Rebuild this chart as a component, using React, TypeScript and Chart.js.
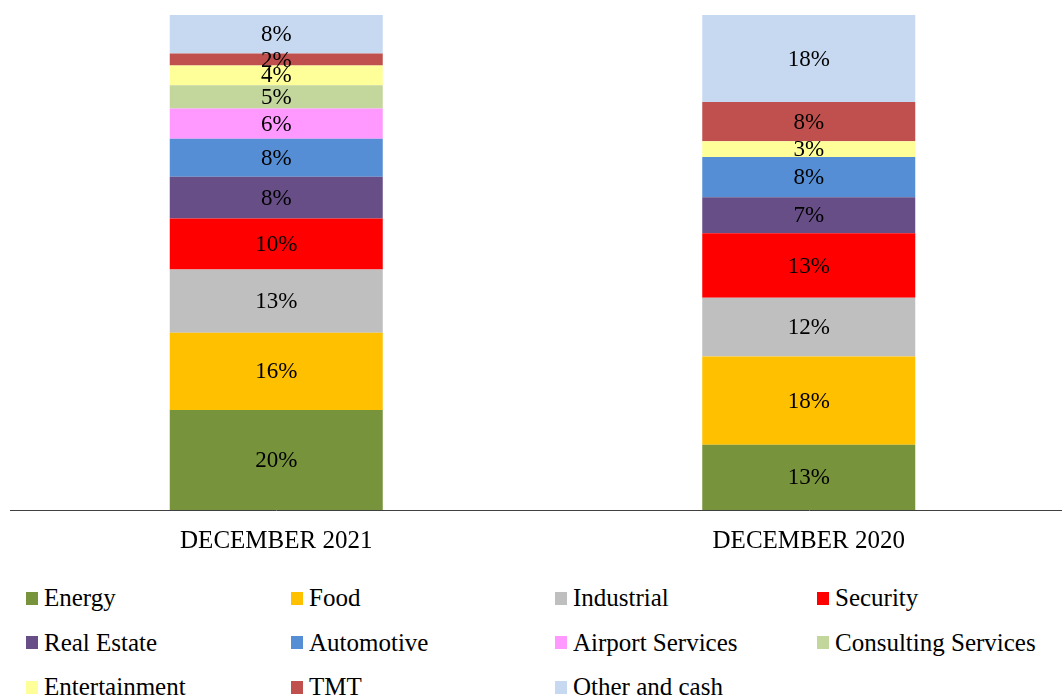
import React, { useEffect, useRef } from "react";
import { Chart, registerables } from "chart.js";

Chart.register(...registerables);

const categories = ["DECEMBER 2021", "DECEMBER 2020"];

const seriesNames = [
  "Energy",
  "Food",
  "Industrial",
  "Security",
  "Real Estate",
  "Automotive",
  "Airport Services",
  "Consulting Services",
  "Entertainment",
  "TMT",
  "Other and cash",
];

const energy = [20.2, 13.2];
const food = [15.6, 17.8];
const industrial = [12.8, 11.9];
const security = [10.3, 13.0];
const realEstate = [8.4, 7.3];
const automotive = [7.7, 8.1];
const airportServices = [6.1, 0];
const consultingServices = [4.7, 0];
const entertainment = [4.0, 3.2];
const tmt = [2.4, 7.9];
const otherAndCash = [7.8, 17.6];

const seriesValues = [
  energy,
  food,
  industrial,
  security,
  realEstate,
  automotive,
  airportServices,
  consultingServices,
  entertainment,
  tmt,
  otherAndCash,
];

const seriesColors = [
  "#77933C",
  "#FFC000",
  "#BFBFBF",
  "#FF0000",
  "#674E86",
  "#558ED5",
  "#FF99FF",
  "#C3D69B",
  "#FFFF99",
  "#C0504D",
  "#C6D9F1",
];

const SERIF = '"Liberation Serif", "Times New Roman", serif';

const dataLabelPlugin = {
  id: "dataLabels",
  afterDatasetsDraw(chart: any) {
    const ctx = chart.ctx;
    ctx.save();
    ctx.font = `23px ${SERIF}`;
    ctx.fillStyle = "#000";
    ctx.textAlign = "center";
    ctx.textBaseline = "middle";
    chart.data.datasets.forEach((ds: any, di: number) => {
      const meta = chart.getDatasetMeta(di);
      if (meta.hidden) return;
      meta.data.forEach((el: any, i: number) => {
        const v = ds.data[i];
        if (!v) return;
        const y = (el.y + el.base) / 2 + 1;
        ctx.fillText(`${Math.round(v)}%`, el.x, y);
      });
    });
    ctx.restore();
  },
};

export default function App() {
  const canvasRef = useRef<HTMLCanvasElement | null>(null);

  useEffect(() => {
    if (!canvasRef.current) return;
    const chart = new Chart(canvasRef.current, {
      type: "bar",
      data: {
        labels: categories,
        datasets: seriesNames.map((name, i) => ({
          label: name,
          data: seriesValues[i],
          backgroundColor: seriesColors[i],
          borderWidth: 0,
          categoryPercentage: 0.4,
          barPercentage: 1,
        })),
      },
      options: {
        animation: false,
        responsive: false,
        devicePixelRatio: 1,
        layout: { padding: { left: 10, top: 15, right: 0, bottom: 0 } },
        plugins: {
          legend: { display: false },
          tooltip: { enabled: false },
          title: { display: false },
        },
        scales: {
          x: {
            stacked: true,
            grid: { display: false, drawTicks: false },
            border: { display: true, color: "#404040", width: 1 },
            ticks: {
              color: "#000",
              font: { family: SERIF, size: 25 },
              padding: 16,
              maxRotation: 0,
            },
            afterFit: (scale: any) => {
              scale.height = 60;
            },
          },
          y: {
            stacked: true,
            display: false,
            min: 0,
            max: 100,
          },
        },
      },
      plugins: [dataLabelPlugin],
    });
    return () => chart.destroy();
  }, []);

  return (
    <div
      style={{
        position: "absolute",
        left: 0,
        top: 0,
        width: 1062,
        height: 697,
        overflow: "hidden",
        background: "#fff",
        fontFamily: SERIF,
      }}
    >
      <canvas
        ref={canvasRef}
        width={1075}
        height={570}
        style={{ display: "block", width: 1075, height: 570 }}
      />
      <div
        style={{
          position: "absolute",
          left: 26,
          top: 576,
          display: "grid",
          gridTemplateColumns: "265px 264px 262px 240px",
          gridAutoRows: "44.5px",
        }}
      >
        {seriesNames.map((name, i) => (
          <div
            key={name}
            style={{
              display: "flex",
              alignItems: "center",
              whiteSpace: "nowrap",
              fontSize: 25,
              color: "#000",
            }}
          >
            <span
              style={{
                display: "inline-block",
                width: 12,
                height: 13,
                background: seriesColors[i],
                marginRight: 6,
                flexShrink: 0,
              }}
            />
            <span>{name}</span>
          </div>
        ))}
      </div>
    </div>
  );
}
